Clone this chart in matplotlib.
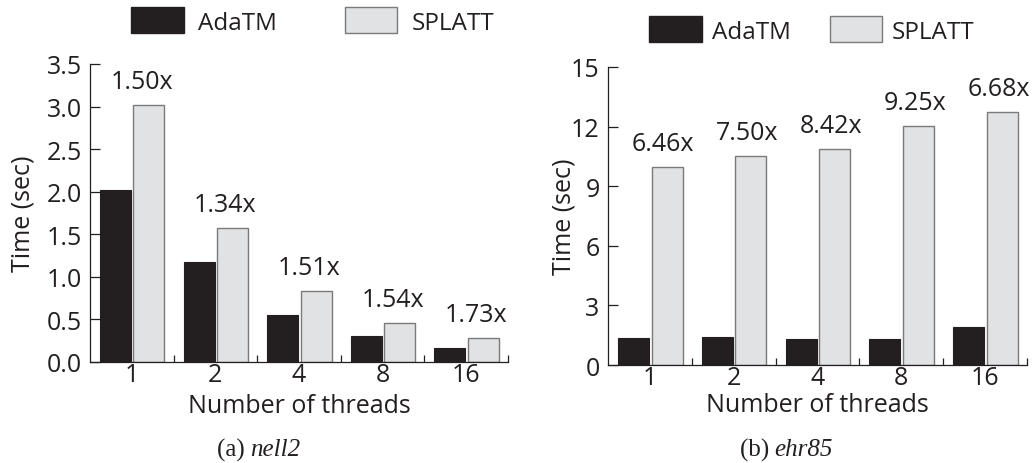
import matplotlib
matplotlib.use("Agg")
import matplotlib.pyplot as plt
import numpy as np
from matplotlib.patches import Patch

threads = ['1', '2', '4', '8', '16']
nell2_adatm = [2.02, 1.18, 0.55, 0.30, 0.16]
nell2_splatt = [3.02, 1.57, 0.83, 0.46, 0.28]
nell2_speedup = ['1.50x', '1.34x', '1.51x', '1.54x', '1.73x']
ehr85_adatm = [1.34, 1.39, 1.29, 1.29, 1.90]
ehr85_splatt = [9.95, 10.50, 10.89, 12.04, 12.75]
ehr85_speedup = ['6.46x', '7.50x', '8.42x', '9.25x', '6.68x']
nell2_yticks = [0.0, 0.5, 1.0, 1.5, 2.0, 2.5, 3.0, 3.5]
ehr85_yticks = [0, 3, 6, 9, 12, 15]

INK = '#231f20'
GRAY = '#e1e2e3'
GRAY_EDGE = '#7a7a7a'
FONT = 'Open Sans'
FS = 18

plt.rcParams['font.family'] = [FONT, 'DejaVu Sans']

fig = plt.figure(figsize=(10.36, 4.64), dpi=100)
W, H = 1036, 464


def make_panel(rect, adatm, splatt, speedup, yticks, yfmt, lab_off, ylab_x, xlab_y,
               leg_center, leg_tp, leg_cs, cap_a, cap_b, cap_split):
    ax = fig.add_axes(rect)
    n = len(threads)
    idx = np.arange(n)
    bw = 0.37
    ax.bar(idx + 0.12, adatm, width=bw, align='edge', color=INK, edgecolor=INK, linewidth=0.8)
    ax.bar(idx + 0.52, splatt, width=bw, align='edge', color=GRAY, edgecolor=GRAY_EDGE, linewidth=1.0)
    ax.set_xlim(0, n)
    ax.set_ylim(yticks[0], yticks[-1])
    ax.set_yticks(yticks)
    ax.set_yticklabels([yfmt.format(v) for v in yticks])
    ax.set_xticks(idx + 0.5)
    ax.set_xticklabels(threads)
    ax.set_xticks(np.arange(1, n + 1), minor=True)
    ax.tick_params(axis='x', which='major', length=0, pad=0, labelsize=FS, labelcolor=INK)
    ax.tick_params(axis='x', which='minor', direction='in', length=5, width=0.9, color=INK)
    ax.tick_params(axis='y', direction='in', length=7, width=0.9, color=INK, pad=6,
                   labelsize=FS, labelcolor=INK)
    for s in ['top', 'right']:
        ax.spines[s].set_visible(False)
    for s in ['left', 'bottom']:
        ax.spines[s].set_color(INK)
        ax.spines[s].set_linewidth(0.9)
    for i in range(n):
        ax.annotate(speedup[i], xy=(i + 0.5 + lab_off, splatt[i]), xytext=(0, 17),
                    textcoords='offset points', ha='center', va='center',
                    fontsize=FS, color=INK)
    ax.set_ylabel('Time (sec)', fontsize=FS, color=INK)
    ax.yaxis.label.set_va('center')
    ax.yaxis.set_label_coords(ylab_x, 0.5)
    ax.set_xlabel('Number of threads', fontsize=FS, color=INK)
    ax.xaxis.label.set_va('center')
    ax.xaxis.set_label_coords(0.5, xlab_y)
    handles = [Patch(facecolor=INK, edgecolor=INK, label='AdaTM'),
               Patch(facecolor=GRAY, edgecolor=GRAY_EDGE, label='SPLATT')]
    fig.legend(handles=handles, loc='center', ncol=2, frameon=False,
               bbox_to_anchor=(leg_center[0] / W, 1 - leg_center[1] / H),
               fontsize=17.5, handlelength=2.15, handleheight=1.25,
               handletextpad=leg_tp, columnspacing=leg_cs, borderpad=0,
               labelcolor=INK)
    fig.text(cap_split / W, 1 - 450 / H, cap_a, ha='right', va='center',
             fontsize=18, family='Liberation Serif', color=INK)
    fig.text(cap_split / W, 1 - 450 / H, cap_b, ha='left', va='center',
             fontsize=18, family='Liberation Serif', style='italic', color=INK)
    return ax


make_panel([90 / W, 1 - 363 / H, 418 / W, 298 / H], nell2_adatm, nell2_splatt, nell2_speedup,
           nell2_yticks, '{:.1f}', 0.12, -0.16, -0.147,
           (313, 22), 0.6, 2.8, '(a)\u2009', 'nell2', 250)
make_panel([608 / W, 1 - 366 / H, 419 / W, 298 / H], ehr85_adatm, ehr85_splatt, ehr85_speedup,
           ehr85_yticks, '{:d}', 0.16, -0.105, -0.131,
           (812, 31), 0.42, 1.6, '(b)\u2009', 'ehr85', 774)

fig.savefig('out.png', dpi=100)
